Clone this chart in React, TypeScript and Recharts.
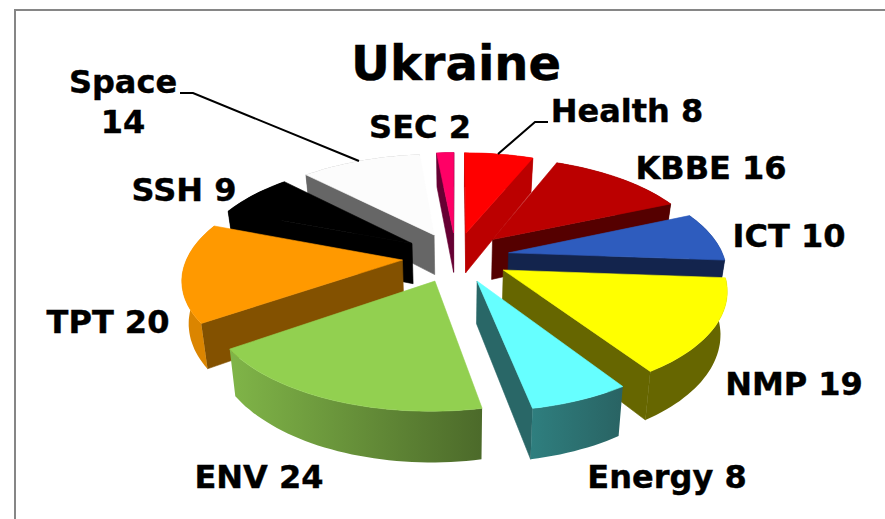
import { Pie, PieChart } from 'recharts';

// Slices on the right of the pie, clockwise from 12 o'clock
const rightNames = ['Health', 'KBBE', 'ICT', 'NMP', 'Energy'];
const rightValues = [8, 16, 10, 19, 8];
const rightTop = ['#ff0000', '#bb0000', '#2e5cbe', '#ffff00', '#66ffff'];
const rightCut = ['#bb0000', '#550000', '#13244d', '#666600', '#296767'];
const rightWall = ['#bb0000', '#550000', '#13244d', '#666600', 'url(#energyWall)'];

// Slices on the left, counter-clockwise from 12 o'clock, so the front ones paint last
const leftNames = ['SEC', 'Space', 'SSH', 'TPT', 'ENV'];
const leftValues = [2, 14, 9, 20, 24];
const leftTop = ['#ff0066', '#fcfcfc', '#000000', '#ff9900', '#92d050'];
const leftCut = ['#660033', '#666666', '#000000', '#835100', '#4c6a2a'];
const leftWall = ['#660033', '#666666', '#000000', '#db8500', 'url(#envWall)'];

const total = [...rightValues, ...leftValues].reduce((a, b) => a + b, 0);
const rightSweep = (rightValues.reduce((a, b) => a + b, 0) / total) * 360;
const leftSweep = 360 - rightSweep;

const rightRows = rightNames.map((name, i) => ({
  name,
  value: rightValues[i],
  top: rightTop[i],
  cut: rightCut[i],
  wall: rightWall[i],
}));
const leftRows = leftNames.map((name, i) => ({
  name,
  value: leftValues[i],
  top: leftTop[i],
  cut: leftCut[i],
  wall: leftWall[i],
}));

const labelLayout: Record<string, { x: number; y: number; twoLines?: boolean; leader?: string }> = {
  Health: { x: 627, y: 122, leader: '548,122 535,122 498,154' },
  KBBE: { x: 711, y: 179 },
  ICT: { x: 789, y: 247 },
  NMP: { x: 794, y: 395 },
  Energy: { x: 667, y: 488 },
  SEC: { x: 420, y: 138 },
  Space: { x: 123, y: 93, twoLines: true, leader: '180,93 193,93 359,161' },
  SSH: { x: 184, y: 201 },
  TPT: { x: 108, y: 333 },
  ENV: { x: 259, y: 488 },
};

const TILT = 0.467; // vertical squash of the pie plane
const PERSPECTIVE = 0.161;
const EXPLODE = 0.25; // distance each slice is pulled out, in radii
const DEPTH = 41; // slice thickness in px
const BOTTOM_SHRINK = 0.975;

const FONT = '"DejaVu Sans", sans-serif';

const toPath = (pts: number[][]) =>
  pts.map((p, i) => `${i === 0 ? 'M' : 'L'}${p[0].toFixed(1)},${p[1].toFixed(1)}`).join(' ') + ' Z';

// Draws a slice in perspective from the angles the Pie computed for it
const Slice3D = (props: any) => {
  const { cx, cy, outerRadius: R, startAngle, endAngle, top, cut, wall } = props;
  const toClock = (a: number) => ((90 - a) * Math.PI) / 180;
  const mid = toClock((startAngle + endAngle) / 2);
  const ex = EXPLODE * Math.sin(mid);
  const ey = EXPLODE * Math.cos(mid);

  const project = (r: number, t: number, down: boolean) => {
    const X = r * Math.sin(t) + ex;
    const Y = r * Math.cos(t) + ey;
    const s = 1 / (1 + PERSPECTIVE * Y);
    const x = cx + R * X * s;
    const y = cy - R * TILT * Y * s;
    if (!down) return [x, y];
    return [cx + (x - cx) * BOTTOM_SHRINK, y + DEPTH * s];
  };

  const a0 = toClock(startAngle);
  const a1 = toClock(endAngle);
  const steps = Math.max(2, Math.ceil(Math.abs(a1 - a0) / 0.03));
  const angles = Array.from({ length: steps + 1 }, (_, i) => a0 + ((a1 - a0) * i) / steps);

  const apex = project(0, 0, false);
  const apexDown = project(0, 0, true);
  const arcTop = angles.map((t) => project(1, t, false));
  const arcDown = angles.map((t) => project(1, t, true));

  // a cut face shows only when the top face lies on the far side of its edge
  const showsCut = (edge: number[], other: number[]) => {
    const ex2 = edge[0] - apex[0];
    const ey2 = edge[1] - apex[1];
    const sideDown = ex2;
    const sideTop = ex2 * (other[1] - apex[1]) - ey2 * (other[0] - apex[0]);
    return sideDown * sideTop < 0;
  };

  const face0 = [apex, arcTop[0], arcDown[0], apexDown];
  const face1 = [apex, arcTop[steps], arcDown[steps], apexDown];
  const outer = [...arcTop, ...[...arcDown].reverse()];
  const upper = [apex, ...arcTop];

  return (
    <g>
      {showsCut(arcTop[0], arcTop[steps]) && <path d={toPath(face0)} fill={cut} stroke={cut} strokeWidth={0.6} />}
      {showsCut(arcTop[steps], arcTop[0]) && <path d={toPath(face1)} fill={cut} stroke={cut} strokeWidth={0.6} />}
      <path d={toPath(outer)} fill={wall} />
      <path d={toPath(upper)} fill={top} stroke={top} strokeWidth={0.6} />
    </g>
  );
};

const renderLabel = (props: any) => {
  const layout = labelLayout[props.name];
  if (!layout) return null;
  return (
    <g>
      {layout.leader && <polyline points={layout.leader} fill="none" stroke="#000" strokeWidth={2} />}
      <text
        x={layout.x}
        y={layout.y}
        textAnchor="middle"
        fontFamily={FONT}
        fontWeight="bold"
        fontSize={32}
        fill="#000"
        stroke="#000"
        strokeWidth={0.4}
      >
        {layout.twoLines ? (
          <>
            <tspan x={layout.x}>{props.name}</tspan>
            <tspan x={layout.x} dy={40}>
              {props.value}
            </tspan>
          </>
        ) : (
          `${props.name} ${props.value}`
        )}
      </text>
    </g>
  );
};

const App = () => (
  <div
    style={{
      position: 'absolute',
      left: 0,
      top: 0,
      width: 885,
      height: 519,
      overflow: 'hidden',
      background: '#fff',
    }}
  >
    <div
      style={{
        position: 'absolute',
        left: 14,
        top: 9,
        width: 1000,
        height: 1000,
        border: '2px solid #868686',
      }}
    />
    <div style={{ position: 'absolute', left: 0, top: 0 }}>
      <PieChart width={885} height={519} margin={{ top: 0, right: 0, bottom: 0, left: 0 }}>
        <defs>
          <linearGradient id="envWall" x1="0" y1="0" x2="1" y2="0">
            <stop offset="0%" stopColor="#80b548" />
            <stop offset="100%" stopColor="#4c6a2a" />
          </linearGradient>
          <linearGradient id="energyWall" x1="0" y1="0" x2="1" y2="0">
            <stop offset="0%" stopColor="#2f7f7f" />
            <stop offset="100%" stopColor="#296363" />
          </linearGradient>
        </defs>
        <text
          x={456}
          y={80}
          textAnchor="middle"
          fontFamily={FONT}
          fontWeight="bold"
          fontSize={48}
          fill="#000"
          stroke="#000"
          strokeWidth={0.4}
        >
          Ukraine
        </text>
        <Pie
          data={rightRows}
          dataKey="value"
          nameKey="name"
          cx={456}
          cy={257}
          innerRadius={0}
          outerRadius={215}
          startAngle={90}
          endAngle={90 - rightSweep}
          stroke="none"
          shape={Slice3D}
          label={renderLabel}
          labelLine={false}
          isAnimationActive={false}
        />
        <Pie
          data={leftRows}
          dataKey="value"
          nameKey="name"
          cx={456}
          cy={257}
          innerRadius={0}
          outerRadius={215}
          startAngle={90}
          endAngle={90 + leftSweep}
          stroke="none"
          shape={Slice3D}
          label={renderLabel}
          labelLine={false}
          isAnimationActive={false}
        />
      </PieChart>
    </div>
  </div>
);

export default App;
